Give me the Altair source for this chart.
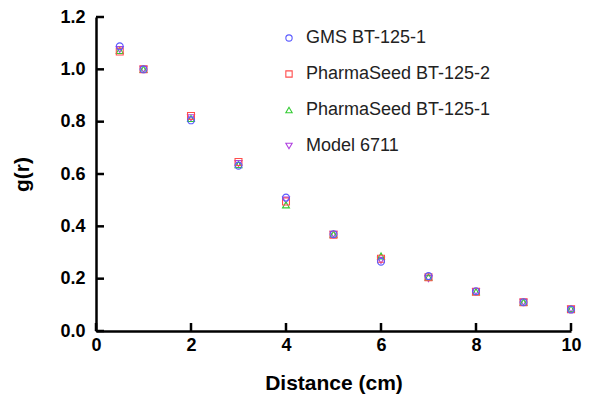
import altair as alt
import pandas as pd

distance = [0.5, 1, 2, 3, 4, 5, 6, 7, 8, 9, 10]
gms_bt125_1 = [1.088, 1.0, 0.805, 0.632, 0.510, 0.370, 0.265, 0.210, 0.152, 0.110, 0.082]
ps_bt125_2 = [1.068, 1.0, 0.822, 0.646, 0.495, 0.368, 0.276, 0.205, 0.150, 0.110, 0.083]
ps_bt125_1 = [1.072, 1.0, 0.812, 0.636, 0.482, 0.370, 0.287, 0.206, 0.150, 0.110, 0.085]
model_6711 = [1.076, 1.0, 0.815, 0.640, 0.500, 0.370, 0.270, 0.200, 0.150, 0.110, 0.083]

series_names = ["GMS BT-125-1", "PharmaSeed BT-125-2", "PharmaSeed BT-125-1", "Model 6711"]
series_values = [gms_bt125_1, ps_bt125_2, ps_bt125_1, model_6711]
series_colors = ["#5a5aff", "#ff4d4d", "#33cc33", "#b040e0"]
series_shapes = ["circle", "square", "triangle-up", "triangle-down"]

x_ticks = [0, 2, 4, 6, 8, 10]
y_ticks = [0.0, 0.2, 0.4, 0.6, 0.8, 1.0, 1.2]

rows = []
# draw order: later series underneath earlier ones
for name, vals in reversed(list(zip(series_names, series_values))):
    for d, v in zip(distance, vals):
        rows.append({"Distance": d, "g": v, "Series": name})
df = pd.DataFrame(rows)

W, H = 475, 314
FONT = "Liberation Sans"

xscale = alt.Scale(domain=[0, 10], nice=False, zero=False)
yscale = alt.Scale(domain=[0, 1.2], nice=False, zero=False)
xaxis = alt.Axis(title="Distance (cm)", values=x_ticks, format="d",
                 labelFlush=False, labelPadding=5, titlePadding=18)
yaxis = alt.Axis(title="g(r)", values=y_ticks, format=".1f",
                 labelPadding=11, titlePadding=27)

points = alt.Chart(df).mark_point(filled=False, strokeWidth=1.1, size=48, opacity=1).encode(
    x=alt.X("Distance:Q", scale=xscale, axis=xaxis),
    y=alt.Y("g:Q", scale=yscale, axis=yaxis),
    color=alt.Color("Series:N",
                    scale=alt.Scale(domain=series_names, range=series_colors),
                    legend=alt.Legend(title=None, orient="none", legendX=184, legendY=12,
                                      padding=0, rowPadding=18, labelOffset=8,
                                      labelLimit=400,
                                      labelFont=FONT, labelFontSize=18, labelColor="#222222",
                                      symbolSize=40, symbolStrokeWidth=1.1,
                                      symbolFillColor="transparent")),
    shape=alt.Shape("Series:N",
                    scale=alt.Scale(domain=series_names, range=series_shapes),
                    legend=None),
)

ytick_df = pd.DataFrame({"g": y_ticks})
xtick_df = pd.DataFrame({"Distance": x_ticks})

yt = alt.Chart(ytick_df).mark_rule(color="black", strokeWidth=2.5).encode(
    y=alt.Y("g:Q", scale=yscale, axis=yaxis),
    x=alt.value(0), x2=alt.value(8),
)
xt = alt.Chart(xtick_df).mark_rule(color="black", strokeWidth=2.5).encode(
    x=alt.X("Distance:Q", scale=xscale, axis=xaxis),
    y=alt.value(H), y2=alt.value(H - 8),
)

chart = alt.layer(yt, xt, points).properties(
    width=W, height=H,
    autosize=alt.AutoSizeParams(type="none"),
    padding={"left": 88, "top": 9, "right": 11, "bottom": 64},
).configure_view(stroke=None).configure_axis(
    grid=False, ticks=False, domainColor="black", domainWidth=2.5,
    labelFont=FONT, labelFontWeight="bold", labelFontSize=18, labelColor="black",
    titleFont=FONT, titleFontWeight="bold", titleFontSize=21, titleColor="black",
)

chart.save("out.html", embed_options={"renderer": "svg", "actions": False})
